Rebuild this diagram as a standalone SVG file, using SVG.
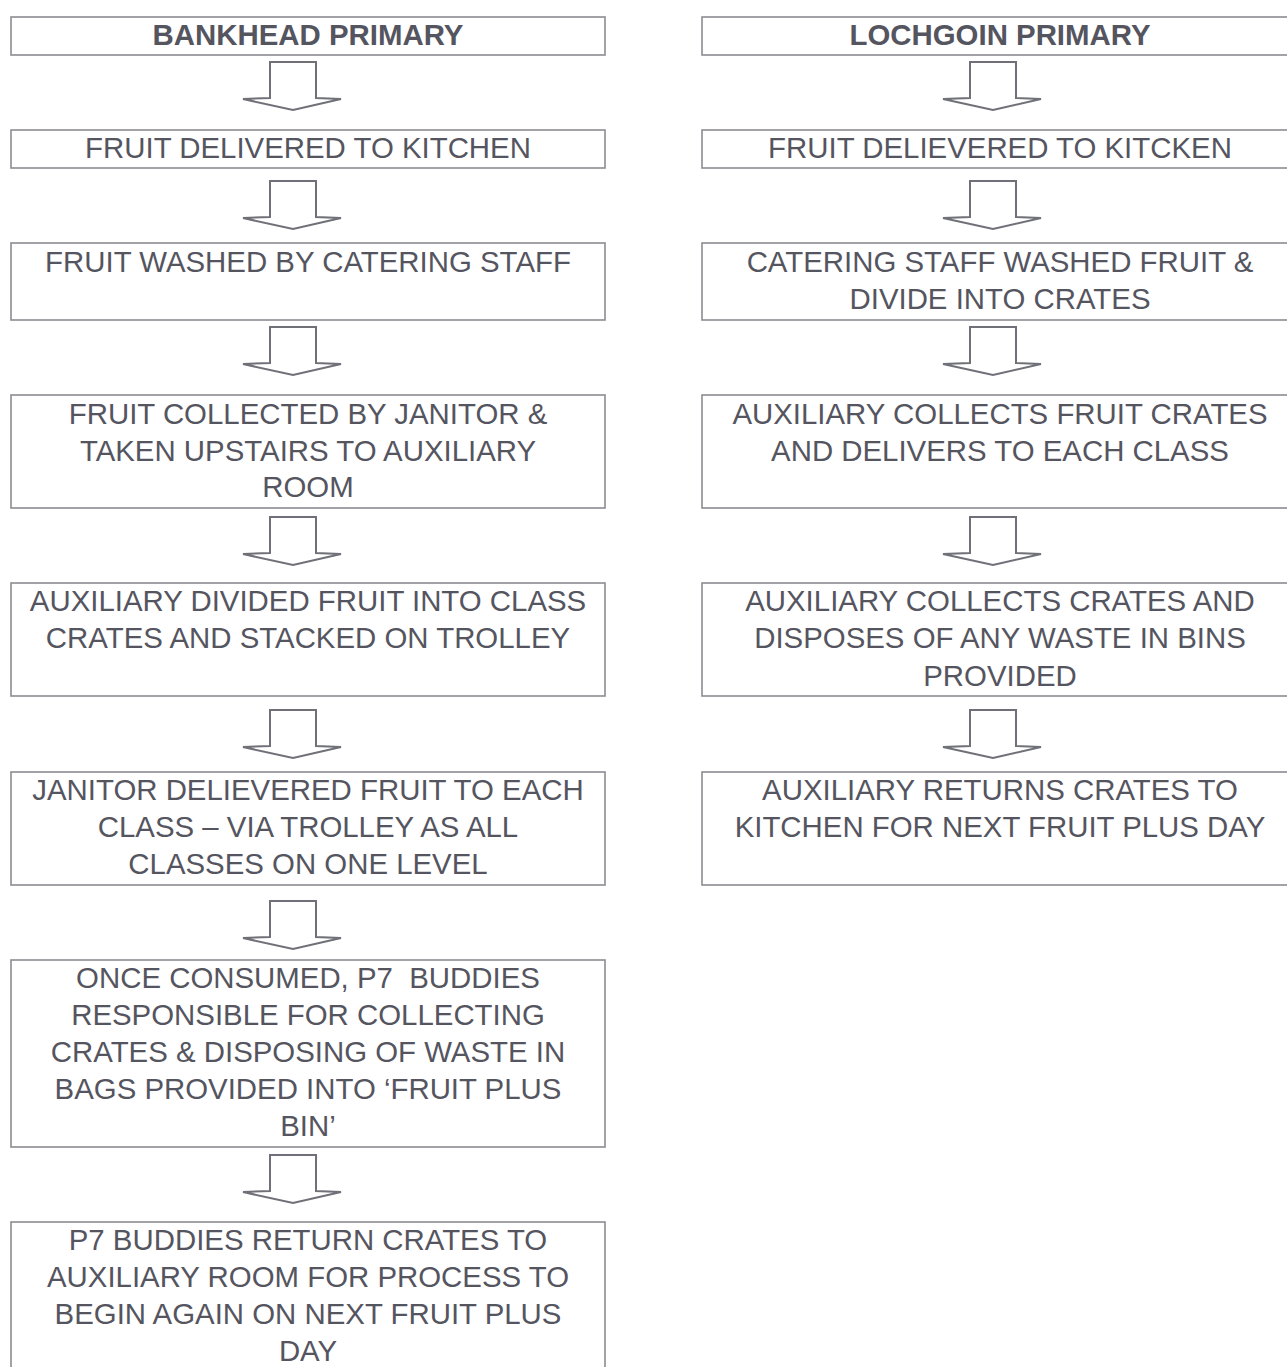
<svg xmlns="http://www.w3.org/2000/svg" width="1287" height="1367" viewBox="0 0 1287 1367">
<defs>
<style>
.box{fill:#fff;stroke:#8c8c92;stroke-width:1.6}
.t{font-family:"Liberation Sans",Arial,sans-serif;font-size:29.4px;fill:#55555f;text-anchor:middle}
.b{font-weight:bold}
.arr{fill:#fff;stroke:#707078;stroke-width:2;stroke-linejoin:miter}
</style>
<polygon id="ar" class="arr" points="-23,-48 23,-48 23,-12 48,-11 0,0 -50,-11 -23,-12"/>
</defs>
<rect width="1287" height="1367" fill="#fff"/>
<g id="connectors">
<use href="#ar" x="293" y="110"/>
<use href="#ar" x="293" y="229"/>
<use href="#ar" x="293" y="375"/>
<use href="#ar" x="293" y="565"/>
<use href="#ar" x="293" y="758"/>
<use href="#ar" x="293" y="949"/>
<use href="#ar" x="293" y="1203"/>
<use href="#ar" x="993" y="110"/>
<use href="#ar" x="993" y="229"/>
<use href="#ar" x="993" y="375"/>
<use href="#ar" x="993" y="565"/>
<use href="#ar" x="993" y="758"/>
</g>
<g id="L1"><rect class="box" x="11" y="17" width="594" height="38"/><text class="t b" x="308" y="45">BANKHEAD PRIMARY</text></g>
<g id="L2"><rect class="box" x="11" y="130" width="594" height="38"/><text class="t" x="308" y="158">FRUIT DELIVERED TO KITCHEN</text></g>
<g id="L3"><rect class="box" x="11" y="243" width="594" height="77"/><text class="t" x="308" y="272">FRUIT WASHED BY CATERING STAFF</text></g>
<g id="L4"><rect class="box" x="11" y="395" width="594" height="113"/><text class="t" x="308" y="424">FRUIT COLLECTED BY JANITOR &amp;</text><text class="t" x="308" y="461">TAKEN UPSTAIRS TO AUXILIARY</text><text class="t" x="308" y="497">ROOM</text></g>
<g id="L5"><rect class="box" x="11" y="583" width="594" height="113"/><text class="t" x="308" y="611">AUXILIARY DIVIDED FRUIT INTO CLASS</text><text class="t" x="308" y="648">CRATES AND STACKED ON TROLLEY</text></g>
<g id="L6"><rect class="box" x="11" y="772" width="594" height="113"/><text class="t" x="308" y="800">JANITOR DELIEVERED FRUIT TO EACH</text><text class="t" x="308" y="837">CLASS – VIA TROLLEY AS ALL</text><text class="t" x="308" y="874">CLASSES ON ONE LEVEL</text></g>
<g id="L7"><rect class="box" x="11" y="960" width="594" height="187"/><text class="t" x="308" y="988">ONCE CONSUMED, P7&#160; BUDDIES</text><text class="t" x="308" y="1025">RESPONSIBLE FOR COLLECTING</text><text class="t" x="308" y="1062">CRATES &amp; DISPOSING OF WASTE IN</text><text class="t" x="308" y="1099">BAGS PROVIDED INTO ‘FRUIT PLUS</text><text class="t" x="308" y="1136">BIN’</text></g>
<g id="L8"><rect class="box" x="11" y="1222" width="594" height="170"/><text class="t" x="308" y="1250">P7 BUDDIES RETURN CRATES TO</text><text class="t" x="308" y="1287">AUXILIARY ROOM FOR PROCESS TO</text><text class="t" x="308" y="1324">BEGIN AGAIN ON NEXT FRUIT PLUS</text><text class="t" x="308" y="1361">DAY</text></g>
<g id="R1"><rect class="box" x="702" y="17" width="600" height="38"/><text class="t b" x="1000" y="45">LOCHGOIN PRIMARY</text></g>
<g id="R2"><rect class="box" x="702" y="130" width="600" height="38"/><text class="t" x="1000" y="158">FRUIT DELIEVERED TO KITCKEN</text></g>
<g id="R3"><rect class="box" x="702" y="243" width="600" height="77"/><text class="t" x="1000" y="272">CATERING STAFF WASHED FRUIT &amp;</text><text class="t" x="1000" y="309">DIVIDE INTO CRATES</text></g>
<g id="R4"><rect class="box" x="702" y="395" width="600" height="113"/><text class="t" x="1000" y="424">AUXILIARY COLLECTS FRUIT CRATES</text><text class="t" x="1000" y="461">AND DELIVERS TO EACH CLASS</text></g>
<g id="R5"><rect class="box" x="702" y="583" width="600" height="113"/><text class="t" x="1000" y="611">AUXILIARY COLLECTS CRATES AND</text><text class="t" x="1000" y="648">DISPOSES OF ANY WASTE IN BINS</text><text class="t" x="1000" y="686">PROVIDED</text></g>
<g id="R6"><rect class="box" x="702" y="772" width="600" height="113"/><text class="t" x="1000" y="800">AUXILIARY RETURNS CRATES TO</text><text class="t" x="1000" y="837">KITCHEN FOR NEXT FRUIT PLUS DAY</text></g>
</svg>
